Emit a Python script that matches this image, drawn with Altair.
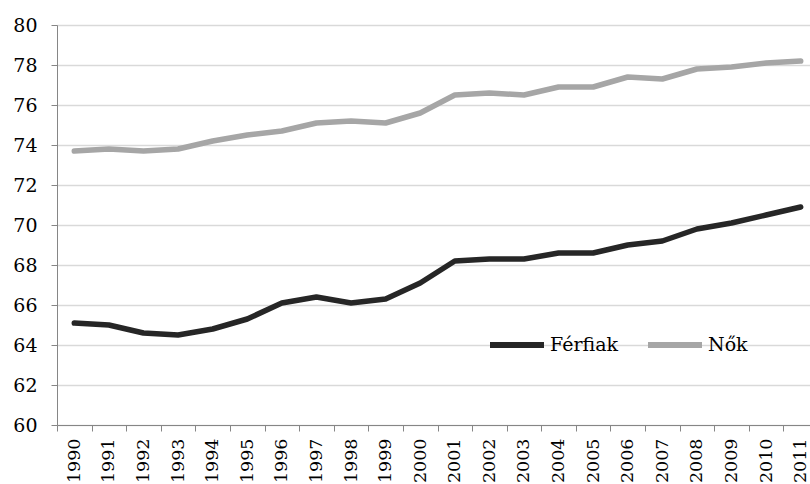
import altair as alt
import pandas as pd

# Születéskor várható élettartam, Magyarország, 1990–2011
years = [str(y) for y in range(1990, 2012)]
ferfiak = [65.1, 65.0, 64.6, 64.5, 64.8, 65.3, 66.1, 66.4, 66.1, 66.3, 67.1,
           68.2, 68.3, 68.3, 68.6, 68.6, 69.0, 69.2, 69.8, 70.1, 70.5, 70.9]
nok = [73.7, 73.8, 73.7, 73.8, 74.2, 74.5, 74.7, 75.1, 75.2, 75.1, 75.6,
       76.5, 76.6, 76.5, 76.9, 76.9, 77.4, 77.3, 77.8, 77.9, 78.1, 78.2]
series = ["Férfiak", "Nők"]
colors = ["#262626", "#a6a6a6"]
y_ticks = list(range(60, 81, 2))

df = pd.DataFrame({
    "Év": years * 2,
    "Érték": ferfiak + nok,
    "Nem": [series[0]] * len(years) + [series[1]] * len(years),
})

FONT = "DejaVu Serif"

chart = (
    alt.Chart(df)
    .mark_line(strokeWidth=5.5, strokeJoin="round", strokeCap="round")
    .encode(
        x=alt.X(
            "Év:N",
            sort=years,
            title=None,
            scale=alt.Scale(range=[0, 761], paddingInner=0, paddingOuter=0),
            axis=alt.Axis(
                labelAngle=270,
                labelFont=FONT,
                labelFontSize=17.5,
                labelColor="#000000",
                labelPadding=7,
                tickBand="extent",
                tickSize=6,
                tickColor="#868686",
                domainColor="#868686",
                grid=False,
            ),
        ),
        y=alt.Y(
            "Érték:Q",
            title=None,
            scale=alt.Scale(domain=[60, 80], nice=False, zero=False),
            axis=alt.Axis(
                values=y_ticks,
                labelFont=FONT,
                labelFontSize=19,
                labelColor="#000000",
                labelPadding=14,
                tickSize=6,
                tickColor="#868686",
                domainColor="#868686",
                gridColor="#d9d9d9",
                gridWidth=1.5,
            ),
        ),
        color=alt.Color(
            "Nem:N",
            sort=series,
            scale=alt.Scale(domain=series, range=colors),
            legend=alt.Legend(
                title=None,
                orient="none",
                legendX=430,
                legendY=290,
                direction="horizontal",
                symbolType="stroke",
                symbolSize=2916,
                symbolStrokeWidth=6,
                labelFont=FONT,
                labelFontSize=19,
                labelColor="#000000",
                labelOffset=3,
                columnPadding=18,
                padding=0,
            ),
        ),
    )
    .properties(
        width=753,
        height=400,
        autosize=alt.AutoSizeParams(type="none"),
        padding={"left": 57, "top": 25, "right": 0, "bottom": 59},
    )
    .configure_view(stroke=None)
    .configure(background="#ffffff")
)

chart.save("out.html", embed_options={"renderer": "svg", "actions": False})
